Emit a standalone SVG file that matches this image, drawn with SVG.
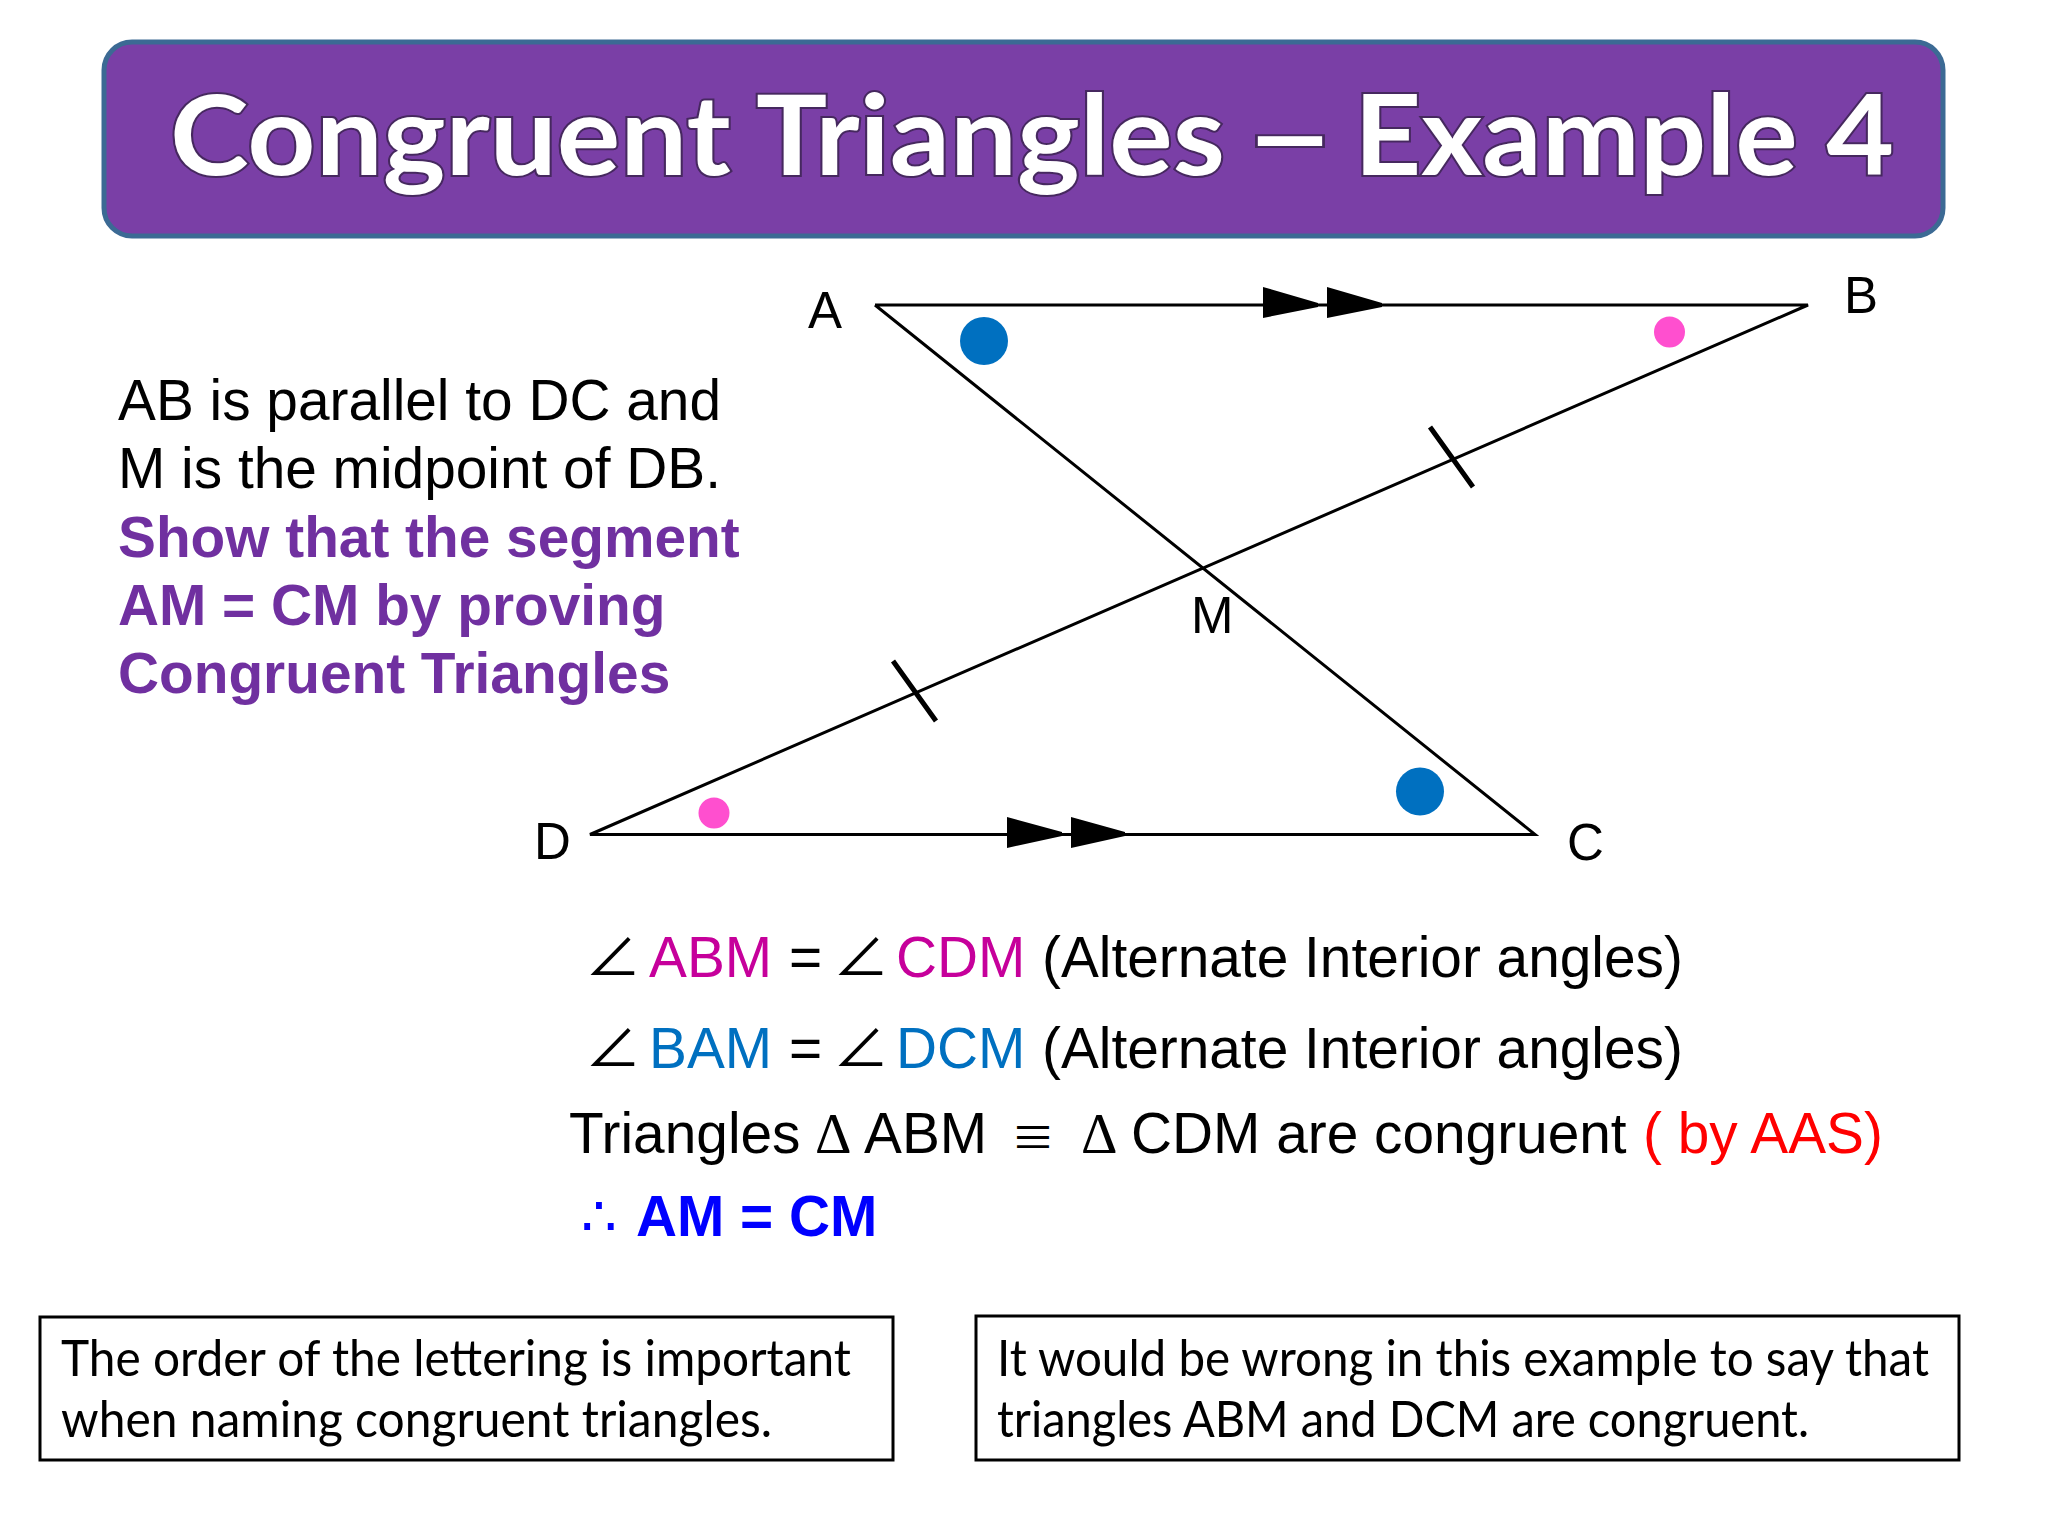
<svg xmlns="http://www.w3.org/2000/svg" width="2048" height="1536" viewBox="0 0 2048 1536">
<style>
text{font-family:"Liberation Sans",Arial,sans-serif;fill:#000;white-space:pre}
.l{font-size:51px}.p{font-size:56.800px}.e{font-size:56.800px}
.v{fill:#7030a0;font-weight:bold}
.c{font-family:Lato,"Open Sans",sans-serif;font-size:50px}
.s{font-family:"Noto Sans CJK SC","DejaVu Sans",sans-serif}
.d{font-family:"DejaVu Sans",sans-serif}
.a{font-size:56px}
.t{font-family:"Liberation Serif",serif}
.m{fill:#c6009b}.b{fill:#0070c0}
.g{fill:none;stroke:#000;stroke-width:3}
.k{fill:none;stroke:#000;stroke-width:5}
.h{fill:#000}
.box{fill:#fff;stroke:#000;stroke-width:3}
.ti{font-family:Lato,"Open Sans",sans-serif;font-size:112px;font-weight:700;fill:#fff;stroke:#46285f;stroke-width:4;paint-order:stroke}
</style>
<rect width="2048" height="1536" fill="#fff"/>
<g id="title">
<rect x="104" y="42" width="1839" height="194" rx="28" fill="#7a3fa6" stroke="#3c6a94" stroke-width="5"/>
<text class="ti" x="170" y="175" textLength="1055" lengthAdjust="spacingAndGlyphs">Congruent Triangles</text>
<text class="ti" x="1244" y="175" textLength="92" lengthAdjust="spacingAndGlyphs">–</text>
<text class="ti" x="1354" y="175" textLength="540" lengthAdjust="spacingAndGlyphs">Example 4</text>
</g>
<g id="problem">
<text class="p" x="118" y="420">AB is parallel to DC and</text>
<text class="p" x="118" y="488">M is the midpoint of DB.</text>
<text class="p v" x="118" y="557">Show that the segment</text>
<text class="p v" x="118" y="625">AM = CM by proving</text>
<text class="p v" x="118" y="693">Congruent Triangles</text>
</g>
<g id="connectors">
<path class="g" d="M875 305H1808L590 834.500H1535L875 305"/>
<path class="k" d="M1430 427L1473 487M893 661L936 721"/>
<path class="h" d="M1263 287L1318 303V307L1263 318ZM1327 287L1382 303V307L1327 318ZM1007 817L1062 832V836L1007 848ZM1071 817L1125 832V836L1071 848Z"/>
</g>
<g id="angle-marks">
<circle cx="984" cy="341" r="24" fill="#0070c0"/>
<circle cx="1420" cy="791.500" r="24" fill="#0070c0"/>
<circle cx="1669.500" cy="332" r="15.500" fill="#ff4fcf"/>
<circle cx="714" cy="813" r="15.500" fill="#ff4fcf"/>
</g>
<g id="labels">
<text class="l" x="808" y="328">A</text>
<text class="l" x="1844" y="313">B</text>
<text class="l" x="1191" y="633">M</text>
<text class="l" x="534" y="859">D</text>
<text class="l" x="1567" y="860">C</text>
</g>
<g id="proof">
<text class="s a" x="585" y="976">∠</text>
<text class="e m" x="649" y="977">ABM</text>
<text class="e" x="789" y="977">=</text>
<text class="s a" x="833" y="976">∠</text>
<text class="e m" x="896" y="977">CDM</text>
<text class="e" x="1042" y="977">(Alternate Interior angles)</text>
<text class="s a" x="585" y="1067">∠</text>
<text class="e b" x="649" y="1068">BAM</text>
<text class="e" x="789" y="1068">=</text>
<text class="s a" x="833" y="1067">∠</text>
<text class="e b" x="896" y="1068">DCM</text>
<text class="e" x="1042" y="1068">(Alternate Interior angles)</text>
<text class="e" x="569" y="1153">Triangles</text>
<text class="e t" x="815" y="1153">Δ</text>
<text class="e" x="864" y="1153">ABM</text>
<text class="s" x="1011" y="1154" style="font-size:44px">≡</text>
<text class="e t" x="1081" y="1153">Δ</text>
<text class="e" x="1131" y="1153">CDM are congruent</text>
<text class="e" x="1643" y="1153" style="fill:#f00">( by AAS)</text>
<text class="e d" x="581" y="1236" style="fill:#00f">∴</text>
<text class="e" x="636" y="1236" style="fill:#00f;font-weight:bold">AM = CM</text>
</g>
<g id="note-left">
<rect class="box" x="40" y="1317" width="853" height="143"/>
<text class="c" x="61" y="1376" textLength="790" lengthAdjust="spacingAndGlyphs">The order of the lettering is important</text>
<text class="c" x="61" y="1437" textLength="711" lengthAdjust="spacingAndGlyphs">when naming congruent triangles.</text>
</g>
<g id="note-right">
<rect class="box" x="976" y="1316" width="983" height="144"/>
<text class="c" x="997" y="1376" textLength="932" lengthAdjust="spacingAndGlyphs">It would be wrong in this example to say that</text>
<text class="c" x="997" y="1437" textLength="812" lengthAdjust="spacingAndGlyphs">triangles ABM and DCM are congruent.</text>
</g>
</svg>
